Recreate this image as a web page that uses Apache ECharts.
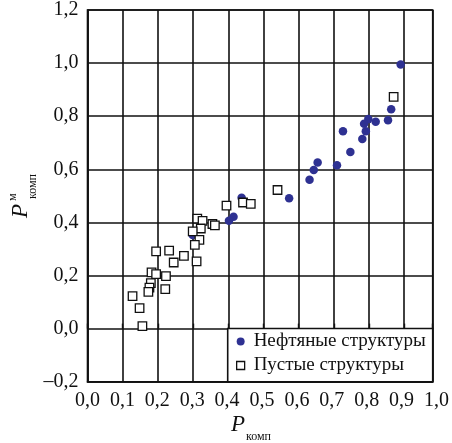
<!DOCTYPE html>
<html><head><meta charset="utf-8">
<script src="https://cdn.jsdelivr.net/npm/echarts@6/dist/echarts.min.js"></script>
<style>html,body{margin:0;padding:0;background:#fff}#c{width:452px;height:443px}</style>
</head><body><div id="c"></div>
<script>
// Нефтяные структуры (filled dots)
const oilX = [0.890,0.863,0.854,0.819,0.798,0.786,0.791,0.781,0.726,0.747,0.709,0.654,0.643,0.631,0.573,0.438,0.415,0.402,0.299];
const oilY = [0.995,0.826,0.785,0.779,0.789,0.772,0.743,0.714,0.743,0.665,0.615,0.626,0.597,0.561,0.491,0.493,0.421,0.406,0.353];
// Пустые структуры (open squares)
const emptyX = [0.870,0.540,0.395,0.442,0.464,0.312,0.327,0.355,0.362,0.322,0.299,0.318,0.305,0.310,0.195,0.232,0.274,0.245,0.182,0.195,0.223,0.180,0.176,0.173,0.221,0.128,0.148,0.156];
const emptyY = [0.873,0.522,0.463,0.475,0.470,0.414,0.406,0.394,0.389,0.377,0.366,0.334,0.315,0.253,0.291,0.294,0.274,0.249,0.212,0.205,0.198,0.171,0.154,0.138,0.149,0.122,0.077,0.009];
const seriesNames = ['Нефтяные структуры', 'Пустые структуры'];
const xTickMin = 0, xTickMax = 1.0, xTickStep = 0.1;
const yTickMin = -0.2, yTickMax = 1.2, yTickStep = 0.2;
const xFrameMax = 0.981;
const xNameMain = 'P', xNameSub = 'комп';
const yNameMain = 'P', yNameSup = 'м', yNameSub = 'комп';

const SERIF = '"Liberation Serif", "DejaVu Serif", serif';
const fmt = v => (v < 0 ? '–' : '') + Math.abs(v).toFixed(1).replace('.', ',');
const zip = (a, b) => a.map((v, i) => [v, b[i]]);

const chart = echarts.init(document.getElementById('c'), null, {renderer: 'canvas'});
const G = {left: 87.5, top: 7.5, bottom: 61.3};
chart.setOption({
  animation: false,
  backgroundColor: '#fff',
  grid: [
    {left: G.left, right: 19.3, top: G.top, bottom: G.bottom, show: true, borderColor: '#111', borderWidth: 1.6, backgroundColor: 'transparent'},
    {left: G.left, right: 12.5, top: G.top, bottom: G.bottom}
  ],
  xAxis: [
    {gridIndex: 0, type: 'value', min: xTickMin, max: xFrameMax, interval: xTickStep,
     axisLine: {show: true, onZero: false, lineStyle: {color: '#111', width: 1.6}},
     axisTick: {show: false}, axisLabel: {show: false},
     splitLine: {show: true, lineStyle: {color: '#111', width: 1.6}}},
    {gridIndex: 1, type: 'value', min: xTickMin, max: xTickMax, interval: xTickStep,
     axisLine: {show: false}, axisTick: {show: false}, splitLine: {show: false},
     axisLabel: {show: true, formatter: fmt, color: '#111', fontFamily: SERIF, fontSize: 20, margin: 9, showMaxLabel: true, showMinLabel: true}},
    {gridIndex: 0, type: 'value', position: 'bottom', min: xTickMin, max: xFrameMax, interval: xTickStep, z: 10,
     axisLine: {show: false}, axisLabel: {show: false}, splitLine: {show: false},
     axisTick: {show: true, inside: true, length: 5, lineStyle: {color: '#111', width: 1.4}}}
  ],
  yAxis: [
    {gridIndex: 0, type: 'value', min: yTickMin, max: yTickMax, interval: yTickStep,
     axisLine: {show: true, onZero: false, lineStyle: {color: '#111', width: 1.6}},
     axisTick: {show: false},
     splitLine: {show: true, lineStyle: {color: '#111', width: 1.6}},
     axisLabel: {formatter: fmt, color: '#111', fontFamily: SERIF, fontSize: 20, margin: 9}},
    {gridIndex: 1, type: 'value', min: yTickMin, max: yTickMax, show: false}
  ],
  legend: {
    orient: 'vertical', left: 236, top: 331, padding: 0, itemGap: 3,
    itemWidth: 8, itemHeight: 8, z: 6,
    textStyle: {fontFamily: SERIF, fontSize: 19, color: '#111', lineHeight: 21, padding: [0, 0, 0, 4]},
    data: [
      {name: seriesNames[0], icon: 'circle', itemStyle: {color: '#2e3192', borderWidth: 0}},
      {name: seriesNames[1], icon: 'rect', itemStyle: {color: '#fff', borderColor: '#111', borderWidth: 1.3}}
    ]
  },
  graphic: [
    {type: 'rect', z: 3, shape: {x: 227.7, y: 328.5, width: 205, height: 53.2},
     style: {fill: '#fff', stroke: '#111', lineWidth: 1.6}},
    {type: 'text', z: 5, x: 231, y: 436, style: {text: xNameMain, font: 'italic 23px ' + SERIF, fill: '#111', textVerticalAlign: 'bottom'}},
    {type: 'text', z: 5, x: 246, y: 443, style: {text: xNameSub, font: '12px ' + SERIF, fill: '#111', textVerticalAlign: 'bottom'}},
    {type: 'group', z: 5, x: 32, y: 218, rotation: Math.PI / 2, children: [
      {type: 'text', x: 0, y: 0, style: {text: yNameMain, font: 'italic 23px ' + SERIF, fill: '#111', textVerticalAlign: 'bottom'}},
      {type: 'text', x: 17, y: -13, style: {text: yNameSup, font: '12px ' + SERIF, fill: '#111', textVerticalAlign: 'bottom'}},
      {type: 'text', x: 19, y: 7, style: {text: yNameSub, font: '12px ' + SERIF, fill: '#111', textVerticalAlign: 'bottom'}}
    ]}
  ],
  series: [
    {name: seriesNames[0], type: 'scatter', xAxisIndex: 0, yAxisIndex: 0, symbol: 'circle', symbolSize: 8.5,
     itemStyle: {color: '#2e3192', opacity: 1}, data: zip(oilX, oilY), z: 2},
    {name: seriesNames[1], type: 'scatter', xAxisIndex: 0, yAxisIndex: 0, symbol: 'rect', symbolSize: 8.5,
     itemStyle: {color: '#fff', borderColor: '#111', borderWidth: 1.3, opacity: 1}, data: zip(emptyX, emptyY), z: 2}
  ]
});
</script></body></html>
